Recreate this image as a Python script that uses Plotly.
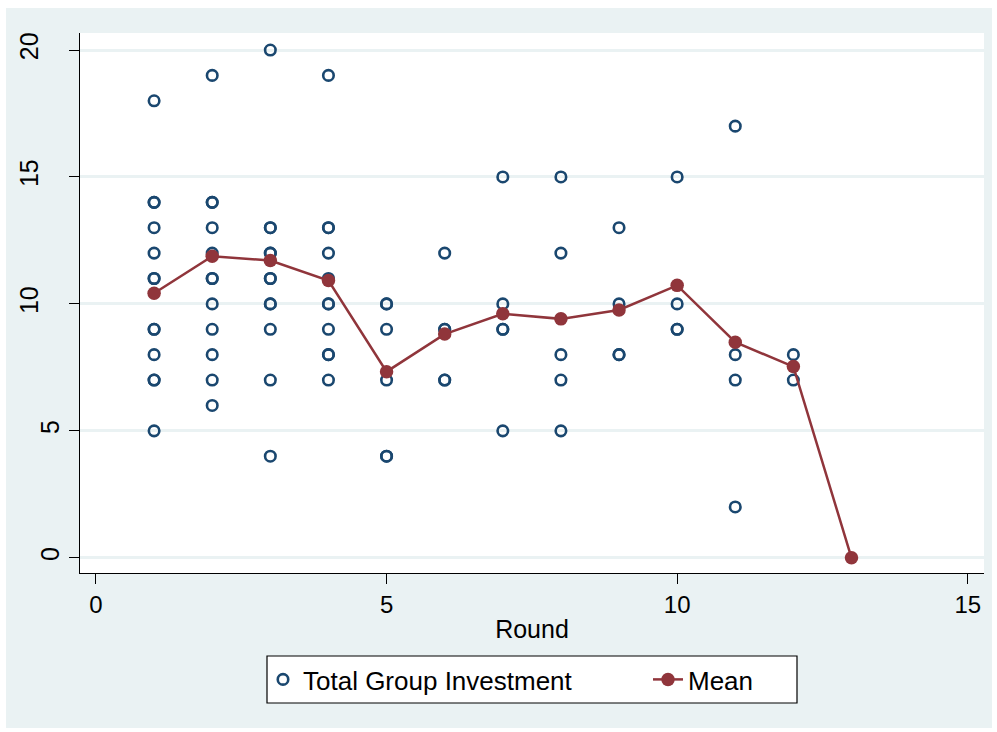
import plotly.graph_objects as go

# ---- data ----
rounds_scatter = [
    1, 1, 1, 1, 1, 1, 1, 1, 1, 1, 1, 1, 1,
    2, 2, 2, 2, 2, 2, 2, 2, 2, 2, 2, 2,
    3, 3, 3, 3, 3, 3, 3, 3, 3, 3, 3, 3,
    4, 4, 4, 4, 4, 4, 4, 4, 4, 4, 4,
    5, 5, 5, 5, 5, 5,
    6, 6, 6, 6, 6,
    7, 7, 7, 7, 7,
    8, 8, 8, 8, 8,
    9, 9, 9, 9,
    10, 10, 10, 10,
    11, 11, 11, 11,
    12, 12,
]
investment = [
    18, 14, 14, 13, 12, 11, 11, 9, 9, 8, 7, 7, 5,
    19, 14, 14, 13, 12, 11, 11, 10, 9, 8, 7, 6,
    20, 13, 13, 12, 12, 11, 11, 10, 10, 9, 7, 4,
    19, 13, 13, 12, 11, 10, 10, 9, 8, 8, 7,
    10, 10, 9, 7, 4, 4,
    12, 9, 9, 7, 7,
    15, 10, 9, 9, 5,
    15, 12, 8, 7, 5,
    13, 10, 8, 8,
    15, 10, 9, 9,
    17, 8, 7, 2,
    8, 7,
]
rounds_mean = [1, 2, 3, 4, 5, 6, 7, 8, 9, 10, 11, 12, 13]
mean_values = [10.42, 11.88, 11.71, 10.92, 7.33, 8.81, 9.61, 9.41, 9.76, 10.73, 8.49, 7.53, 0.0]

x_ticks = [0, 5, 10, 15]
y_ticks_near = [0, 5]          # labels drawn close to the axis
y_ticks_far = [10, 15, 20]     # labels drawn further from the axis

NAVY = "#1A476F"
MAROON = "#90353B"
BG = "#EAF2F3"
FONT = "Liberation Sans, Arial, sans-serif"

W, H = 997, 732
L, R, T, B = 80, 13, 33, 159
pw, ph = W - L - R, H - T - B
Y_RANGE = [-0.6, 20.67]


def px2paper_x(px):
    return (px - L) / pw


def px2paper_y(py):
    return (H - B - py) / ph


fig = go.Figure()
fig.add_trace(go.Scatter(
    x=rounds_scatter, y=investment, mode="markers",
    name="Total Group Investment", legend="legend",
    marker=dict(symbol="circle-open", size=10.5, color=NAVY,
                line=dict(width=2.6, color=NAVY)),
))
fig.add_trace(go.Scatter(
    x=rounds_mean, y=mean_values, mode="lines+markers",
    name="Mean", yaxis="y2", legend="legend2",
    line=dict(color=MAROON, width=2.5),
    marker=dict(symbol="circle", size=13.5, color=MAROON),
))

legend_common = dict(
    orientation="h", xanchor="left",
    y=px2paper_y(679.5), yanchor="middle",
    bgcolor="rgba(0,0,0,0)", borderwidth=0,
    font=dict(family=FONT, size=26, color="black"),
    itemsizing="trace",
)

fig.update_layout(
    width=W, height=H,
    margin=dict(l=L, r=R, t=T, b=B, pad=0, autoexpand=False),
    paper_bgcolor="white",
    plot_bgcolor="white",
    font=dict(family=FONT, size=24, color="black"),
    showlegend=True,
    legend=dict(x=px2paper_x(263), **legend_common),
    legend2=dict(x=px2paper_x(648), **legend_common),
    shapes=[
        dict(type="rect", xref="paper", yref="paper", layer="below",
             x0=px2paper_x(6), x1=px2paper_x(992),
             y0=px2paper_y(728), y1=px2paper_y(8),
             fillcolor=BG, line=dict(width=0)),
        dict(type="rect", xref="paper", yref="paper", layer="below",
             x0=0, x1=1, y0=0, y1=1,
             fillcolor="white", line=dict(width=0)),
        dict(type="rect", xref="paper", yref="paper", layer="below",
             x0=px2paper_x(267), x1=px2paper_x(797),
             y0=px2paper_y(703), y1=px2paper_y(656),
             fillcolor="white", line=dict(width=1.2, color="black")),
    ],
)

fig.update_xaxes(
    range=[-0.275, 15.28], tickvals=x_ticks, ticktext=[str(v) for v in x_ticks],
    showgrid=False, zeroline=False, automargin=False,
    showline=True, linecolor="black", linewidth=1,
    ticks="outside", ticklen=10, tickwidth=1, tickcolor="black",
    tickfont=dict(size=24),
    title=dict(text="Round", font=dict(size=25), standoff=3),
)
fig.update_layout(
    yaxis=dict(
        range=Y_RANGE, automargin=False,
        tickvals=y_ticks_near + y_ticks_far,
        ticktext=[str(v) for v in y_ticks_near] + ["" for _ in y_ticks_far],
        showgrid=True, gridcolor=BG, gridwidth=2.5, zeroline=False,
        showline=True, linecolor="black", linewidth=1,
        ticks="outside", ticklen=10, tickwidth=1, tickcolor="black",
        tickangle=-90, tickfont=dict(size=25),
    ),
    yaxis2=dict(
        range=Y_RANGE, overlaying="y", side="left", anchor="x",
        automargin=False,
        tickvals=y_ticks_far, ticktext=[str(v) for v in y_ticks_far],
        showgrid=False, zeroline=False, showline=False,
        ticks="outside", ticklen=10, tickwidth=1, tickcolor="black",
        tickangle=-90, tickfont=dict(size=25),
        ticklabelstandoff=21,
    ),
)

fig.write_html(
    "out.html",
    config={"displayModeBar": False},
    post_script="document.body.style.margin='0px';",
)
